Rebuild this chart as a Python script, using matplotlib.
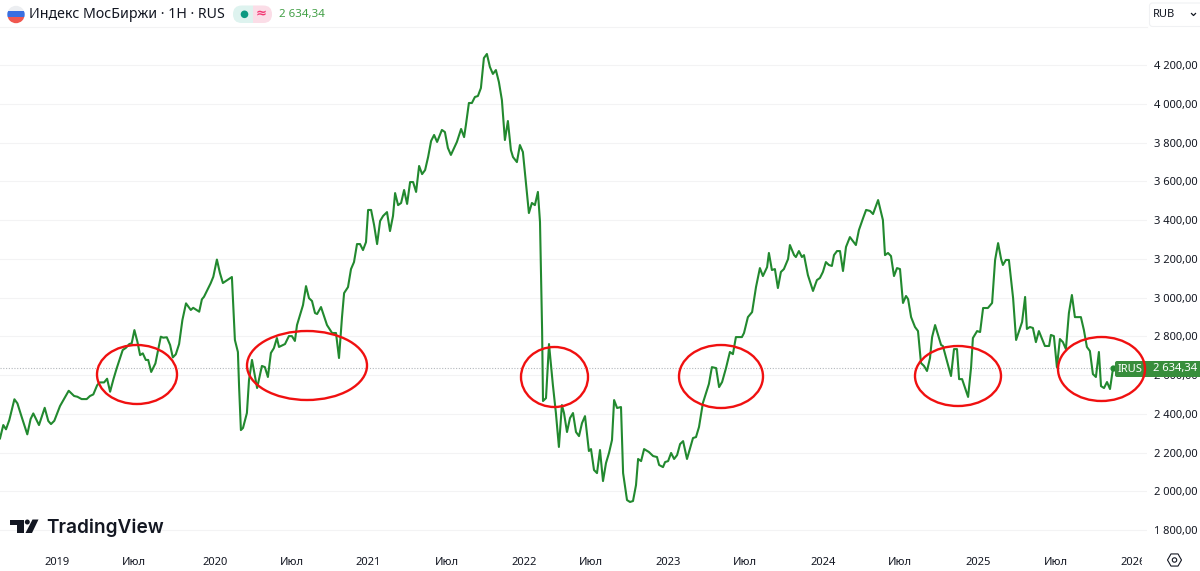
import matplotlib
matplotlib.use("Agg")
import matplotlib.pyplot as plt
from matplotlib.patches import Ellipse, Rectangle, Circle, Polygon, FancyBboxPatch, RegularPolygon
from matplotlib.transforms import Bbox

W, H = 1200, 571

# bar number (one bar = one week of the index-based time scale)
bars = [
    0, 1.1, 2, 3.1, 4.8, 5.8, 7.2, 9.1, 10.2, 11.1,
    13, 14.9, 16.1, 17, 18.1, 20, 22.9, 24.7, 25.8, 27.2,
    28.9, 30, 31.1, 32.4, 33.3, 34.7, 35.7, 36.7, 37.8, 38.9,
    40.9, 42, 43.1, 43.9, 44.8, 45.8, 46.7, 47.6, 48.6, 49.4,
    50.4, 51.8, 53.6, 54.4, 55.6, 56.7, 57.6, 58.6, 59.7, 60.8,
    62, 63.6, 64.4, 66.4, 67.3, 68, 70.2, 71.1, 72.3,
    73.3, 74.3, 77.3, 78.3, 79.3, 79.7, 80.3, 81, 82.3, 83,
    84, 85.7, 87.3, 88.3, 89.3, 90.3, 91.3, 92.3, 93, 94.3,
    95, 96.3, 97.3, 98.3, 99, 101, 102, 103, 104, 105,
    105.7, 107, 109, 110.7, 112, 113, 114, 114.7, 116, 117,
    118, 119, 120, 121, 122, 122.7, 123.7, 124.7, 125.7, 126.7,
    127.7, 129, 130, 131, 131.7, 132.7, 133.7, 134.7, 135.7, 136.7,
    137.7, 138.7, 139.7, 140.7, 141.7, 142.7, 143.7, 144.7, 145.7, 147.3,
    148.3, 149.3, 150.3, 152.3, 153.7, 154.7, 155.3, 156.3, 157.3, 158.3,
    159.3, 160.3, 161.3, 162.3, 163.3, 164.3, 165.3, 166.3, 167.3, 168.3,
    169.3, 170.3, 171, 172.3, 173.3, 174.3, 175.3, 176.3, 177.3, 178.3,
    179.3, 180, 180.7, 181, 182, 183, 184.3, 185.3, 186.3, 187.3,
    188, 189, 190, 191, 192, 193, 194, 195, 196.3, 197,
    198, 199, 200, 201, 202, 203, 204, 204.7, 205.7, 207,
    207.7, 209, 210, 211, 212, 212.7, 213.7, 214.7, 216.3, 217.7,
    219, 219.7, 221, 221.7, 222.7, 223.7, 224.7, 225.7, 226.7, 227.7,
    229, 231, 232, 233, 234.3, 236.3, 237.3, 238.7, 239.7, 240.7,
    242, 243.3, 244.3, 245.3, 247.3, 248, 249.3, 250.7, 252, 253.3,
    254.3, 255.7, 256.3, 257.3, 258.3, 259.3, 260.3, 261.3, 262.7, 263.3,
    264.7, 265.3, 266.3, 267.3, 268, 269.3, 271, 272.3, 273.3, 274.3,
    275.3, 276.3, 277.3, 278, 279, 280, 281, 282, 283.3, 285.3,
    286.3, 287.7, 288.7, 290, 291, 292.7, 294.3, 295, 296, 297,
    298, 299, 300, 301, 302, 302.7, 303.7, 305, 306, 307,
    308, 309, 310, 310.7, 311.7, 313.7, 314.3, 317, 318, 319,
    319.7, 320.7, 322.7, 323.7, 324.3, 325.7, 326.7, 327.7, 329.3, 330.7,
    331.7, 332.7, 333.7, 334.3, 335.3, 336.3, 337.7, 338.7, 340.7, 341.7,
    342.3, 343.3, 344.3, 345.3, 346.3, 348.3, 349.7, 350.3, 351.3, 352.3,
    353.3, 354.3, 355.3, 356.3, 357.3, 358.3, 360.3, 361.3, 362.3, 363.3,
    364.3, 365.3, 366.3, 367, 368, 369, 370, 371,
]

closes = [
    2273, 2342, 2320, 2368, 2475, 2454, 2385, 2294, 2373, 2402,
    2342, 2431, 2363, 2347, 2364, 2440, 2519, 2492, 2488, 2476,
    2476, 2492, 2500, 2548, 2562, 2562, 2581, 2514, 2578, 2635,
    2729, 2741, 2760, 2764, 2832, 2772, 2703, 2712, 2678, 2678,
    2616, 2660, 2798, 2793, 2795, 2755, 2691, 2707, 2760, 2884,
    2970, 2936, 2947, 2927, 2991, 3004, 3073, 3107, 3196,
    3127, 3075, 3106, 2781, 2719, 2538, 2316, 2327, 2404, 2574,
    2678, 2533, 2647, 2641, 2590, 2714, 2739, 2791, 2745, 2755,
    2760, 2801, 2801, 2776, 2858, 2961, 3059, 2997, 2982, 2920,
    2915, 2951, 2858, 2817, 2817, 2688, 2899, 3023, 3054, 3147,
    3183, 3276, 3276, 3245, 3286, 3452, 3452, 3374, 3276, 3395,
    3421, 3441, 3343, 3421, 3539, 3477, 3488, 3555, 3483, 3596,
    3596, 3545, 3679, 3637, 3658, 3725, 3808, 3839, 3803, 3865,
    3854, 3772, 3736, 3803, 3870, 3828, 3890, 4004, 4004, 4035,
    4040, 4081, 4236, 4257, 4190, 4154, 4174, 4112, 4019, 3813,
    3911, 3761, 3725, 3699, 3787, 3751, 3591, 3436, 3488, 3477,
    3545, 3390, 2832, 2466, 2481, 2760, 2548, 2404, 2229, 2445,
    2404, 2306, 2378, 2404, 2306, 2285, 2352, 2388, 2208, 2218,
    2110, 2094, 2213, 2053, 2146, 2198, 2265, 2471, 2430, 2435,
    2094, 1955, 1945, 1950, 2032, 2167, 2156, 2218, 2203, 2182,
    2177, 2136, 2125, 2151, 2156, 2198, 2167, 2187, 2244, 2259,
    2167, 2275, 2280, 2332, 2456, 2554, 2641, 2636, 2538, 2564,
    2636, 2719, 2708, 2796, 2796, 2817, 2899, 2925, 3054, 3152,
    3111, 3157, 3230, 3142, 3147, 3049, 3132, 3147, 3199, 3271,
    3219, 3209, 3240, 3209, 3219, 3116, 3034, 3090, 3101, 3132,
    3183, 3168, 3163, 3219, 3240, 3240, 3137, 3261, 3312, 3271,
    3348, 3410, 3452, 3447, 3431, 3503, 3400, 3219, 3230, 3214,
    3111, 3152, 3147, 2972, 3008, 2992, 2899, 2848, 2827, 2662,
    2647, 2621, 2688, 2796, 2858, 2755, 2750, 2595, 2734, 2734,
    2579, 2579, 2487, 2641, 2791, 2827, 2822, 2946, 2946, 2972,
    3194, 3281, 3199, 3168, 3194, 3194, 2997, 2781, 2874, 3003,
    2838, 2848, 2843, 2770, 2827, 2750, 2750, 2807, 2801, 2641,
    2786, 2770, 2734, 2920, 3013, 2899, 2899, 2832, 2745, 2724,
    2605, 2590, 2719, 2543, 2533, 2564, 2528, 2634.34,
]

y_ticks = [1800, 2000, 2200, 2400, 2600, 2800, 3000, 3200, 3400, 3600, 3800, 4000, 4200]
x_tick_bars = [19, 44.7, 71.7, 97.3, 122.7, 149, 174.7, 197, 222.7, 248.3, 274.3, 300, 326, 352, 377.7]
x_tick_labels = ["2019", "Июл", "2020", "Июл", "2021", "Июл", "2022", "Июл", "2023", "Июл", "2024", "Июл", "2025", "Июл", "2026"]
last_price = 2634.34
title = "Индекс МосБиржи · 1H · RUS"
price_text = "2 634,34"
symbol = "IRUS"

FONT = "Noto Sans"
TXT = "#131722"
GREEN = "#22892f"
plt.rcParams["font.family"] = FONT

fig = plt.figure(figsize=(W / 100, H / 100), dpi=100, facecolor="white")
ax = fig.add_axes([0, (H - 545) / H, 1147 / W, (545 - 28) / H])
ax.set_xlim(0, 1147 / 3)
ax.set_ylim(1723, 4391)
for s in ax.spines.values():
    s.set_visible(False)
ax.yaxis.tick_right()
ax.set_yticks(y_ticks)
ax.set_yticklabels([f"{v:,}".replace(",", " ") + ",00" for v in y_ticks], fontsize=8, color=TXT)
ax.set_xticks(x_tick_bars)
ax.set_xticklabels(x_tick_labels, fontsize=8, color=TXT)
ax.tick_params(axis="y", length=0, pad=5)
ax.tick_params(axis="x", length=0, pad=8.3)
for lab, txt in zip(ax.get_xticklabels(), x_tick_labels):
    if txt != "Июл":
        lab.set_fontweight("semibold")
ax.get_xticklabels()[-1].set_clip_box(Bbox([[0, 0], [1142, H]]))
ax.get_xticklabels()[-1].set_clip_on(True)
ax.grid(axis="y", color="#f3f3f4", lw=0.75)
ax.set_axisbelow(True)
ax.axhline(last_price, xmax=1115 / 1147, color="#b4b8bd", lw=0.8, ls=(0, (1, 1.5)))
ax.plot(bars, closes, color=GREEN, lw=1.5, solid_joinstyle="round")
ax.plot(bars[-1:], closes[-1:], "o", color=GREEN, ms=3.5)

# Pixel-space overlay for the chrome and hand-drawn annotations
ov = fig.add_axes([0, 0, 1, 1], facecolor="none")
ov.set_xlim(0, W)
ov.set_ylim(H, 0)
ov.axis("off")

ov.plot([0, 1147], [26.5, 26.5], color="#f3f3f4", lw=0.8)

# flag
flag = Circle((16, 14.5), 8.7, transform=ov.transData)
for top, h, c in [(5, 6, "#eceef1"), (11, 6.2, "#3a6fe0"), (17.2, 7, "#f0574f")]:
    r = Rectangle((6, top), 20, h, color=c, lw=0)
    ov.add_patch(r)
    r.set_clip_path(flag)

ov.text(29, 14.3, title, fontsize=10.2, color=TXT, va="center", ha="left")

# status pill
pill = FancyBboxPatch((233, 5.5), 39, 17.5, boxstyle="round,pad=0,rounding_size=8.7", fc="none", ec="none",
                      transform=ov.transData)
ov.add_patch(pill)
for x0, w, c in [(233, 20, "#def3ef"), (253, 19, "#fbdde7")]:
    r = Rectangle((x0, 5), w, 19, color=c, lw=0)
    ov.add_patch(r)
    r.set_clip_path(pill)
ov.add_patch(Circle((244.5, 14.3), 3.8, color="#0b9981", lw=0))
ov.text(261, 14, "≈", fontsize=9.5, color="#f23672", ha="center", va="center", family="DejaVu Sans", fontweight="bold")
ov.text(279, 14.3, price_text, fontsize=8.3, color="#43a047", ha="left", va="center")

# currency box
ov.add_patch(FancyBboxPatch((1149.5, 3), 60, 23.5, boxstyle="round,pad=0,rounding_size=3", fc="white", ec="#f0f1f3", lw=0.8))
ov.text(1153, 14.3, "RUB", fontsize=8, color=TXT, ha="left", va="center")
ov.plot([1191.5, 1193.5, 1195.5], [13.5, 15.5, 13.5], color=TXT, lw=0.9)

# TradingView logo
ov.add_patch(Polygon([(10, 519.5), (24, 519.5), (24, 533), (17, 533), (17, 524.5), (10, 524.5)], fc="#131722", lw=0))
ov.add_patch(Circle((27.3, 522), 2.5, fc="#131722", lw=0))
ov.add_patch(Polygon([(32.5, 519.5), (38.5, 519.5), (32, 533), (25.5, 533)], fc="#131722", lw=0))
ov.text(46.5, 533, "TradingView", fontsize=13.7, color="#131722", ha="left", va="baseline", family="Inter", fontweight="semibold")

# settings icon
ov.add_patch(RegularPolygon((1174.5, 560), 6, radius=7, orientation=3.14159 / 2, fc="none", ec=TXT, lw=0.8))
ov.add_patch(Circle((1174.5, 560), 2.2, fc="none", ec=TXT, lw=0.8))

# price tags
y_tag = 369
ov.add_patch(FancyBboxPatch((1115, 361), 34, 16, boxstyle="round,pad=0,rounding_size=2", fc="#388e3c", ec="none"))
ov.add_patch(Rectangle((1147, 361), 53, 16, fc="#388e3c", ec="none"))
ov.text(1130.5, y_tag, symbol, fontsize=8, color="white", ha="center", va="center", fontweight="semibold")
ov.text(1175.5, y_tag, price_text, fontsize=8, color="white", ha="center", va="center", fontweight="semibold")

# red hand-drawn circles
for cx, cy, w, h in [(137, 374.5, 80, 59), (307, 365.5, 120, 69), (554.5, 377, 67, 60),
                     (721, 376.5, 84, 63), (958, 376, 86, 60), (1101.5, 369, 87, 64)]:
    ov.add_patch(Ellipse((cx, cy), w, h, fc="none", ec="#f01010", lw=1.7))

fig.savefig("out.png", dpi=100)
